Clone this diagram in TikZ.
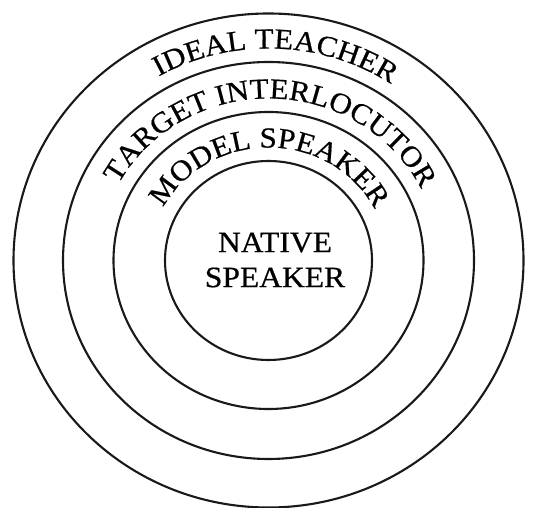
\documentclass[tikz,border=0pt]{standalone}
\usepackage{fontspec}
\setmainfont{Liberation Serif}[FakeStretch=1.07, FakeBold=0.6]
\usetikzlibrary{decorations.text}
\newcommand\ringfont{\fontsize{29}{29}\selectfont}
\begin{document}
\begin{tikzpicture}[x=1pt,y=1pt,
  ring/.style={line width=2.1pt, draw=black!90},
  arctext/.style={decorate, decoration={text along path, text align=center, text={|\ringfont|#1}}}]
\useasboundingbox[fill=white] (0,0) rectangle (535,508);
\coordinate (C) at (268.5,247.5);
% rings
\draw[ring] (C) ellipse [x radius=255, y radius=247];
\draw[ring] (C) ellipse [x radius=205.5, y radius=198.5];
\draw[ring] (C) ellipse [x radius=155, y radius=148.5];
\draw[ring] (C) ellipse [x radius=103.5, y radius=99.5];
% curved labels
\path[arctext={IDEAL TEACHER}] (C) ++(178:221 and 212) arc[start angle=178, end angle=-2, x radius=221, y radius=212];
\path[arctext={TARGET INTERLOCUTOR}] (C) ++(179:170 and 162) arc[start angle=179, end angle=-1, x radius=170, y radius=162];
\path[arctext={MODEL SPEAKER}] (C) ++(179.5:119 and 113) arc[start angle=179.5, end angle=-0.5, x radius=119, y radius=113];
% centre label
\node[align=center, inner sep=0pt, font={\fontsize{29.5}{35}\selectfont}] (native) at (275,248) {NATIVE\\SPEAKER};
\end{tikzpicture}
\end{document}
